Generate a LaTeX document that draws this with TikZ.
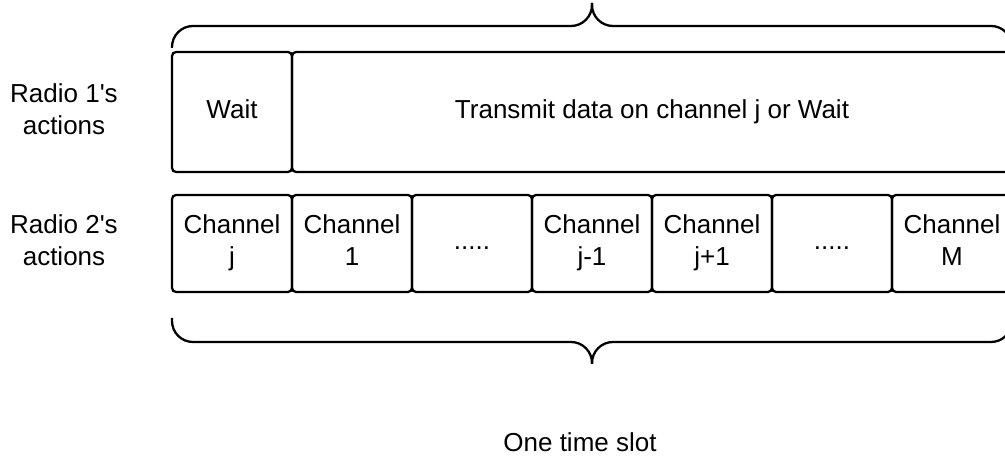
\documentclass[tikz,border=0pt]{standalone}
\usepackage{fontspec}
\setmainfont{Liberation Sans}

\newcommand{\slottext}[2]{\strut #1\\\strut #2}

\tikzset{
    slot/.style={draw, rounded corners=0.08cm, inner sep=0pt, outer sep=0pt,
        minimum width=2.4cm, align=center},
    toprow/.style={slot, minimum height=2.4cm},
    lowrow/.style={slot, minimum height=1.94cm},
    rowlabel/.style={align=center}
}

\begin{document}
\begin{tikzpicture}[x=0.02cm, y=-0.02cm, line width=1.3pt,
        every node/.append style={font=\fontsize{14.8}{18.2}\selectfont}]
    \clip (0,0) rectangle (1005,462);

    % radio 1: wait, then send
    \node[toprow] (wait) at (232,112) {\strut Wait};
    \node[toprow, minimum width=14.4cm] (send) at (652,112) {\strut Transmit data on channel j or Wait};

    % radio 2: channel sweep
    \node[lowrow] (chj)   at (232,243.5) {\slottext{Channel}{j}};
    \node[lowrow] (chone) at (352,243.5) {\slottext{Channel}{1}};
    \node[lowrow] (dotsa) at (472,243.5) {\strut.....};
    \node[lowrow] (chjm)  at (592,243.5) {\slottext{Channel}{j-1}};
    \node[lowrow] (chjp)  at (712,243.5) {\slottext{Channel}{j+1}};
    \node[lowrow] (dotsb) at (832,243.5) {\strut.....};
    \node[lowrow] (chm)   at (952,243.5) {\slottext{Channel}{M}};

    \node[rowlabel] (radioone) at (64,112) {\slottext{Radio 1\textquotesingle s}{actions}};
    \node[rowlabel] (radiotwo) at (64,243.5) {\slottext{Radio 2\textquotesingle s}{actions}};

    % braces above and below
    \draw[rounded corners=0.42cm] (172,48) |- (592,26) -- (592,3);
    \draw[rounded corners=0.42cm] (1012,48) |- (592,26) -- (592,3);
    \draw[rounded corners=0.42cm] (172,318) |- (592,342) -- (592,364);
    \draw[rounded corners=0.42cm] (1012,318) |- (592,342) -- (592,364);

    \node (slot) at (580,445) {\strut One time slot};
\end{tikzpicture}
\end{document}
